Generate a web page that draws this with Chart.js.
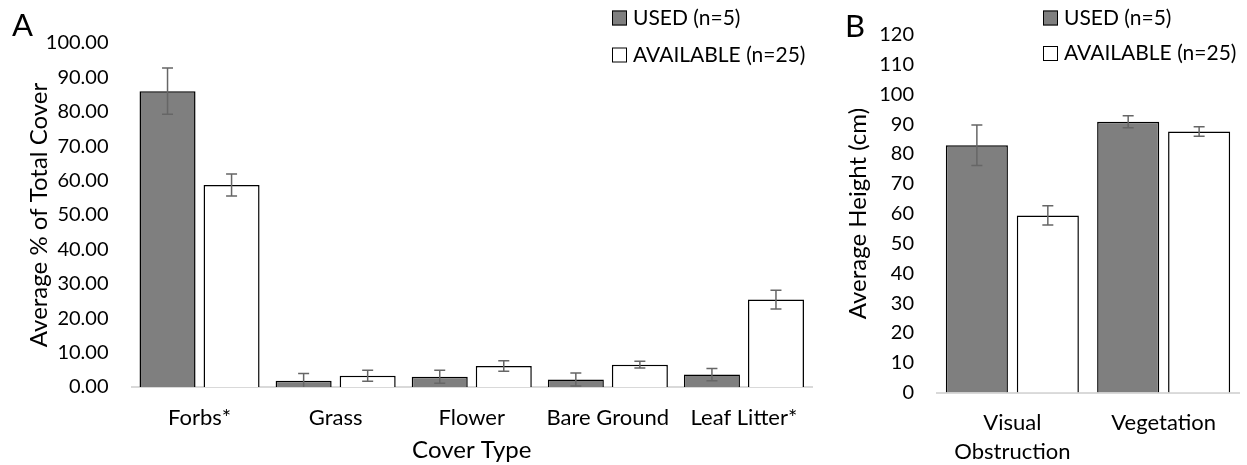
<!DOCTYPE html>
<html>
<head>
<meta charset="utf-8">
<script src="https://cdn.jsdelivr.net/npm/chart.js@4.4.1/dist/chart.umd.min.js"></script>
<style>
  html, body { margin: 0; padding: 0; background: #fff; }
  #wrap { position: relative; width: 1247px; height: 465px; overflow: hidden; }
  canvas { position: absolute; top: 0; }
  #coverCanvas { left: 0; }
  #heightCanvas { left: 830px; }
</style>
</head>
<body>
<div id="wrap">
  <canvas id="coverCanvas" width="830" height="465"></canvas>
  <canvas id="heightCanvas" width="417" height="465"></canvas>
</div>
<script>
// Series names shared by both panels
const seriesNames = ['USED (n=5)', 'AVAILABLE (n=25)'];

// Panel A: percent of total cover by cover type
const coverTypes = ['Forbs*', 'Grass', 'Flower', 'Bare Ground', 'Leaf Litter*'];
const coverUsed = [86.0, 1.8, 3.0, 2.2, 3.6];
const coverUsedErr = [6.7, 2.1, 1.9, 1.9, 1.8];
const coverAvail = [58.7, 3.3, 6.1, 6.5, 25.4];
const coverAvailErr = [3.2, 1.6, 1.5, 1.0, 2.7];
const coverAxis = { min: 0, max: 100, step: 10, decimals: 2 };

// Panel B: average height
const heightTypes = [['Visual', 'Obstruction'], 'Vegetation'];
const heightUsed = [82.9, 90.8];
const heightUsedErr = [6.8, 2.0];
const heightAvail = [59.4, 87.5];
const heightAvailErr = [3.2, 1.6];
const heightAxis = { min: 0, max: 120, step: 10, decimals: 0 };

const USED_FILL = '#7f7f7f';
const AVAIL_FILL = '#ffffff';
const TEXT = '#000000';

Chart.defaults.font.family = 'Lato, "Open Sans", sans-serif';
Chart.defaults.font.size = 20;
Chart.defaults.color = TEXT;

// Draws symmetric error bars from each dataset's `errors` array
const errorBars = {
  id: 'errorBars',
  afterDatasetsDraw(chart) {
    const { ctx, chartArea, scales } = chart;
    const y = scales.y;
    ctx.save();
    ctx.beginPath();
    ctx.rect(chartArea.left, chartArea.top, chartArea.right - chartArea.left, chartArea.bottom - chartArea.top);
    ctx.clip();
    ctx.strokeStyle = '#666666';
    ctx.lineWidth = 1.5;
    chart.data.datasets.forEach((ds, di) => {
      const meta = chart.getDatasetMeta(di);
      meta.data.forEach((bar, i) => {
        const v = ds.data[i], e = ds.errors[i];
        const yTop = y.getPixelForValue(v + e);
        const yBot = y.getPixelForValue(v - e);
        const x = bar.x, cap = 5.5;
        ctx.beginPath();
        ctx.moveTo(x, yTop); ctx.lineTo(x, yBot);
        ctx.moveTo(x - cap, yTop); ctx.lineTo(x + cap, yTop);
        ctx.moveTo(x - cap, yBot); ctx.lineTo(x + cap, yBot);
        ctx.stroke();
      });
    });
    ctx.restore();
  }
};

// Panel letter and stacked legend
const panelDecor = {
  id: 'panelDecor',
  afterDraw(chart, args, opts) {
    const { ctx } = chart;
    ctx.save();
    ctx.fillStyle = TEXT;
    ctx.font = '31px Lato, sans-serif';
    ctx.textBaseline = 'middle';
    ctx.textAlign = 'left';
    ctx.fillText(opts.letter, opts.letterX, opts.letterY);
    ctx.font = '21px Lato, sans-serif';
    chart.data.datasets.forEach((ds, i) => {
      const cy = opts.legendY[i];
      ctx.fillStyle = ds.backgroundColor;
      ctx.fillRect(opts.legendX, cy - 7.5, 15, 15);
      ctx.strokeStyle = '#000';
      ctx.lineWidth = 1;
      ctx.strokeRect(opts.legendX + 0.5, cy - 7, 14, 14);
      ctx.fillStyle = TEXT;
      ctx.fillText(ds.label, opts.legendX + 21, cy);
    });
    ctx.restore();
  }
};

function makeBarChart(canvasId, cfg) {
  return new Chart(document.getElementById(canvasId), {
    type: 'bar',
    data: {
      labels: cfg.labels,
      datasets: [
        { label: seriesNames[0], data: cfg.used, errors: cfg.usedErr,
          backgroundColor: USED_FILL, borderColor: '#000', borderWidth: 1.5 },
        { label: seriesNames[1], data: cfg.avail, errors: cfg.availErr,
          backgroundColor: AVAIL_FILL, borderColor: '#000', borderWidth: 1.5 }
      ]
    },
    options: {
      responsive: false,
      animation: false,
      events: [],
      categoryPercentage: cfg.catPct,
      barPercentage: 0.875,
      layout: { padding: cfg.padding },
      plugins: {
        legend: { display: false },
        tooltip: { enabled: false },
        panelDecor: cfg.decor
      },
      scales: {
        x: {
          z: 1,
          grid: { display: false, drawTicks: false },
          border: { display: true, color: '#d9d9d9', width: 2 },
          ticks: { padding: cfg.xTickPad, maxRotation: 0, autoSkip: false,
                   font: { size: 22, lineHeight: cfg.xLineHeight } },
          title: { display: !!cfg.xTitle, text: cfg.xTitle || '', font: { size: 24 },
                   padding: { top: 0, bottom: 0.6 } },
          afterFit(s) { s.height = cfg.xHeight; }
        },
        y: {
          min: cfg.axis.min, max: cfg.axis.max,
          grid: { display: false, drawTicks: false },
          border: { display: false },
          ticks: { stepSize: cfg.axis.step, padding: cfg.yTickPad,
                   callback: v => Number(v).toFixed(cfg.axis.decimals) },
          title: { display: true, text: cfg.yTitle, font: { size: 24 },
                   padding: { top: cfg.yTitlePad, bottom: 0 } },
          afterFit(s) { s.width = cfg.yWidth; }
        }
      }
    },
    plugins: [errorBars, panelDecor]
  });
}

makeBarChart('coverCanvas', {
  labels: coverTypes, used: coverUsed, usedErr: coverUsedErr,
  avail: coverAvail, availErr: coverAvailErr, axis: coverAxis,
  catPct: 0.941,
  padding: { top: 43, right: 18, bottom: 0, left: 0 },
  yWidth: 131.5, xHeight: 78, xTickPad: 18, xLineHeight: 1.2, yTickPad: 23,
  yTitle: 'Average % of Total Cover', yTitlePad: 24.6,
  xTitle: 'Cover Type',
  decor: { letter: 'A', letterX: 12, letterY: 26, legendX: 612, legendY: [18, 55] }
});

makeBarChart('heightCanvas', {
  labels: heightTypes, used: heightUsed, usedErr: heightUsedErr,
  avail: heightAvail, availErr: heightAvailErr, axis: heightAxis,
  catPct: 0.938,
  padding: { top: 29.3, right: 7.7, bottom: 0, left: 0 },
  yWidth: 106.7, xHeight: 72.5, xTickPad: 16.5, xLineHeight: 1.3, yTickPad: 22.7,
  yTitle: 'Average Height (cm)', yTitlePad: 13.6,
  xTitle: '',
  decor: { letter: 'B', letterX: 15, letterY: 27, legendX: 213, legendY: [18, 53.5] }
});
</script>
</body>
</html>
